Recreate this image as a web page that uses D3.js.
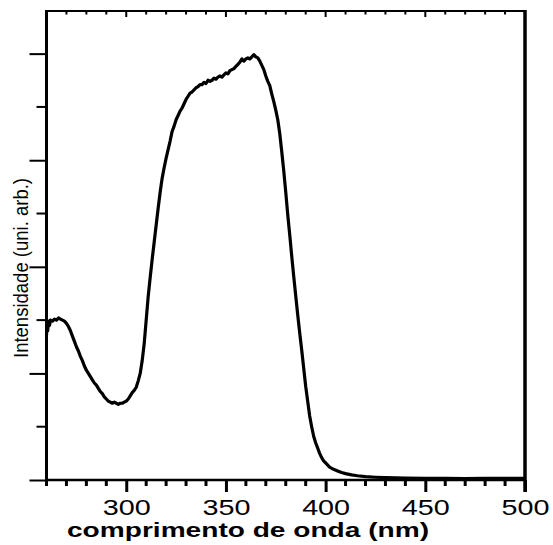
<!DOCTYPE html>
<html>
<head>
<meta charset="utf-8">
<script src="https://cdn.jsdelivr.net/npm/d3@7"></script>
<style>
  html, body { margin: 0; padding: 0; background: #fff; }
  svg { display: block; }
  text { font-family: "Liberation Sans", Arial, sans-serif; fill: #000; }
</style>
</head>
<body>
<svg id="chart" width="553" height="545"></svg>
<script>
// Absorption spectrum: wavelength (nm) vs intensity (arbitrary units)
const wavelength = [
  260, 260.3, 260.6, 261, 261.5, 262, 263, 264, 265, 266, 267, 268, 269,
  270, 271, 272, 273, 274, 275, 276, 277, 278, 279, 280, 281, 282, 283, 284,
  285, 286, 287, 288, 289, 290, 291, 292, 293, 294, 295, 296, 297, 298, 299,
  300, 301, 302, 303, 304, 305, 306, 307, 308, 309, 310, 311, 312, 313, 314,
  315, 316, 317, 318, 319, 320, 321, 322, 323, 324, 325, 326, 327, 328, 329,
  330, 331, 332, 333, 334, 335, 336, 337, 338, 339, 340, 341, 342, 343, 344,
  345, 346, 347, 348, 349, 350, 351, 352, 353, 354, 355, 356, 357, 358, 359,
  360, 361, 362, 363, 364, 365, 366, 367, 368, 369, 370, 371, 372, 373, 374,
  375, 376, 377, 378, 379, 380, 381, 382, 383, 384, 385, 386, 387, 388, 389,
  390, 391, 392, 393, 394, 395, 396, 397, 398, 399, 400, 402, 404, 406, 408,
  410, 413, 416, 420, 425, 430, 440, 450, 460, 470, 480, 490, 500
];
const intensity = [
  1.36, 1.46, 1.40, 1.49, 1.45, 1.50, 1.49, 1.51, 1.50, 1.52, 1.51, 1.50, 1.49,
  1.47, 1.44, 1.40, 1.35, 1.30, 1.25, 1.21, 1.16, 1.12, 1.07, 1.03, 1.00, 0.97, 0.94, 0.91,
  0.89, 0.86, 0.83, 0.81, 0.78, 0.76, 0.74, 0.73, 0.72, 0.73, 0.72, 0.71, 0.72, 0.72, 0.73,
  0.74, 0.76, 0.79, 0.82, 0.84, 0.87, 0.93, 1.00, 1.12, 1.28, 1.50, 1.72, 1.90, 2.07, 2.23,
  2.39, 2.55, 2.70, 2.83, 2.93, 3.02, 3.10, 3.18, 3.27, 3.32, 3.38, 3.42, 3.46, 3.49, 3.53,
  3.57, 3.60, 3.63, 3.64, 3.66, 3.68, 3.69, 3.71, 3.71, 3.73, 3.72, 3.75, 3.74, 3.75, 3.77,
  3.76, 3.78, 3.79, 3.78, 3.80, 3.82, 3.81, 3.84, 3.85, 3.86, 3.88, 3.90, 3.92, 3.95, 3.93,
  3.95, 3.96, 3.95, 3.97, 3.99, 3.97, 3.96, 3.93, 3.89, 3.85, 3.79, 3.74, 3.70, 3.62, 3.55,
  3.47, 3.38, 3.25, 3.08, 2.90, 2.70, 2.49, 2.30, 2.10, 1.91, 1.73, 1.55, 1.38, 1.22, 1.05,
  0.88, 0.74, 0.60, 0.50, 0.41, 0.35, 0.30, 0.25, 0.21, 0.18, 0.16, 0.12, 0.10, 0.085, 0.07,
  0.06, 0.048, 0.04, 0.032, 0.026, 0.022, 0.018, 0.016, 0.015, 0.014, 0.016, 0.015, 0.016
];

const xMajorTicks = [300, 350, 400, 450, 500];
const xMinorTicks = d3.range(260, 501, 10).filter(v => !xMajorTicks.includes(v));
const yMajorTicks = [0, 1, 2, 3, 4];
const yMinorTicks = [0.5, 1.5, 2.5, 3.5];
const xTitle = "comprimento de onda (nm)";
const yTitle = "Intensidade (uni. arb.)";

const plotLeft = 46.5, plotRight = 525, plotTop = 11, plotBottom = 480;

const x = d3.scaleLinear().domain([260, 500]).range([plotLeft, plotRight]);
const y = d3.scaleLinear().domain([0, 4.4]).range([plotBottom, plotTop]);

const svg = d3.select("#chart");

// Bottom axis: major and minor ticks pointing outward
const gx = svg.append("g").attr("transform", `translate(0,${plotBottom})`);
gx.call(d3.axisBottom(x).tickValues(xMajorTicks).tickSize(12).tickSizeOuter(0).tickPadding(7))
  .call(g => g.select(".domain").remove());
gx.selectAll(".tick line").attr("stroke", "#000").attr("stroke-width", 3);
gx.selectAll(".tick text")
  .attr("font-size", 22)
  .attr("dy", "0.71em")
  .attr("textLength", 48)
  .attr("lengthAdjust", "spacingAndGlyphs");
gx.selectAll(".minor").data(xMinorTicks).enter().append("line")
  .attr("x1", d => x(d)).attr("x2", d => x(d))
  .attr("y1", 0).attr("y2", 6)
  .attr("stroke", "#000").attr("stroke-width", 3);

// Top axis: small inward ticks, no labels
const gt = svg.append("g").attr("transform", `translate(0,${plotTop})`);
gt.selectAll("line.t").data(xMinorTicks.concat(xMajorTicks)).enter().append("line")
  .attr("x1", d => x(d)).attr("x2", d => x(d))
  .attr("y1", 0).attr("y2", d => xMajorTicks.includes(d) ? 6 : 3.5)
  .attr("stroke", "#000").attr("stroke-width", 2);

// Left axis: unlabeled ticks pointing outward
const gy = svg.append("g").attr("transform", `translate(${plotLeft},0)`);
gy.call(d3.axisLeft(y).tickValues(yMajorTicks).tickSize(17).tickSizeOuter(0).tickFormat(""))
  .call(g => g.select(".domain").remove());
gy.selectAll(".tick line").attr("stroke", "#000").attr("stroke-width", 2);
gy.selectAll(".minor").data(yMinorTicks).enter().append("line")
  .attr("x1", -10).attr("x2", 0)
  .attr("y1", d => y(d)).attr("y2", d => y(d))
  .attr("stroke", "#000").attr("stroke-width", 2);

// Frame
svg.append("line").attr("x1", plotLeft).attr("x2", plotRight).attr("y1", plotTop).attr("y2", plotTop)
  .attr("stroke", "#000").attr("stroke-width", 2);
svg.append("line").attr("x1", plotLeft).attr("x2", plotLeft).attr("y1", plotTop - 1).attr("y2", plotBottom)
  .attr("stroke", "#000").attr("stroke-width", 3);
svg.append("line").attr("x1", plotRight).attr("x2", plotRight).attr("y1", plotTop - 1).attr("y2", plotBottom + 12)
  .attr("stroke", "#000").attr("stroke-width", 3.5);
svg.append("line").attr("x1", plotLeft).attr("x2", plotRight).attr("y1", plotBottom).attr("y2", plotBottom)
  .attr("stroke", "#000").attr("stroke-width", 2.5);

// Spectrum curve
const pts = wavelength.map((w, i) => [w, intensity[i]]);
svg.append("path")
  .datum(pts)
  .attr("fill", "none")
  .attr("stroke", "#000")
  .attr("stroke-width", 3.2)
  .attr("stroke-linejoin", "round")
  .attr("d", d3.line().x(d => x(d[0])).y(d => y(d[1])));

// Axis titles
svg.append("text")
  .attr("x", 248).attr("y", 537)
  .attr("text-anchor", "middle")
  .attr("font-size", 21)
  .attr("font-weight", "bold")
  .attr("textLength", 362)
  .attr("lengthAdjust", "spacingAndGlyphs")
  .text(xTitle);

svg.append("text")
  .attr("transform", "translate(28,268) rotate(-90)")
  .attr("text-anchor", "middle")
  .attr("font-size", 20)
  .attr("textLength", 180)
  .attr("lengthAdjust", "spacingAndGlyphs")
  .text(yTitle);
</script>
</body>
</html>
